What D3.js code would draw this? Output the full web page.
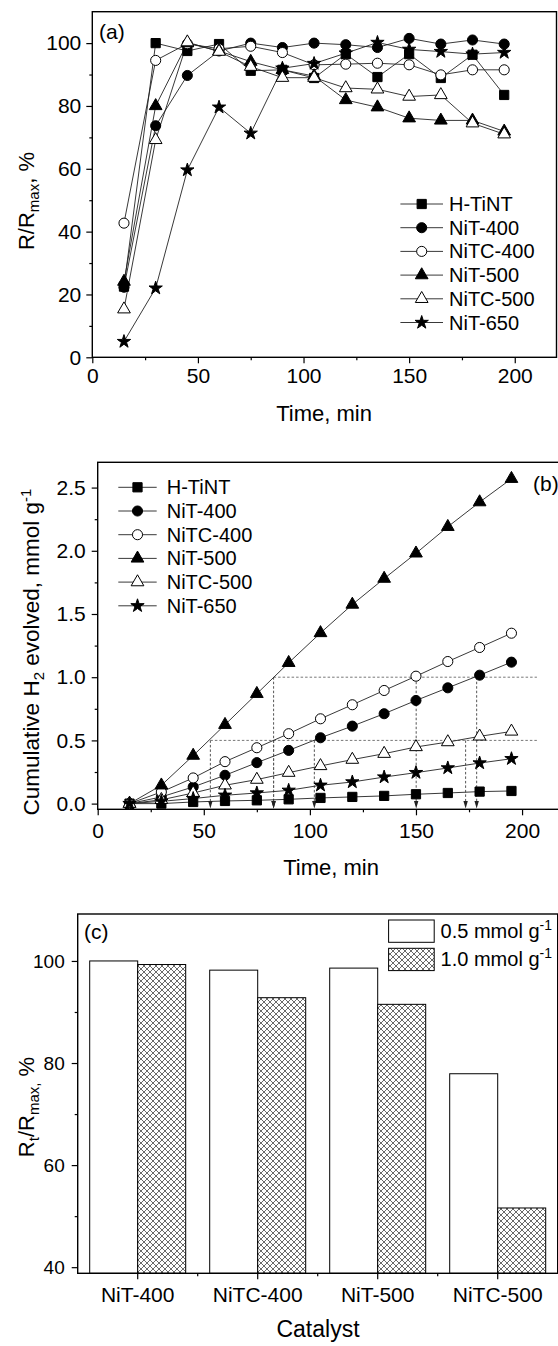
<!DOCTYPE html>
<html>
<head>
<meta charset="utf-8">
<script src="https://cdn.jsdelivr.net/npm/d3@7"></script>
<style>
  body { margin: 0; background: #fff; }
  text { font-family: "Liberation Sans", Arial, sans-serif; fill: #000; }
</style>
</head>
<body>
<div id="chart"></div>
<script>
// ---- data ----
const seriesNames = ["H-TiNT", "NiT-400", "NiTC-400", "NiT-500", "NiTC-500", "NiT-650"];
const times = [15, 30, 45, 60, 75, 90, 105, 120, 135, 150, 165, 180, 195];

// (a) relative rate R/Rmax, %
const rateHTiNT = [22.5, 100, 97.5, 99.7, 91.2, 91.5, 88.9, 96.5, 89.2, 96.5, 88.9, 96.3, 83.5];
const rateNiT400 = [22.3, 73.7, 89.7, 97.5, 100, 98.6, 100, 99.5, 98.6, 101.5, 99.7, 101, 99.7];
const rateNiTC400 = [42.7, 94.5, 99.8, 98.2, 99, 97, 93.1, 93.3, 93.6, 93.1, 89.9, 91.5, 91.5];
const rateNiT500 = [24.1, 80, 100, 97.5, 94.1, 91.5, 89.5, 81.9, 79.6, 76.1, 75.4, 75.4, 71.9];
const rateNiTC500 = [15.3, 69.2, 100.3, 97.3, 92.5, 89, 89, 85.7, 85.3, 83, 83.5, 74.5, 71];
const rateNiT650 = [5, 22, 59.6, 79.6, 71.3, 92, 93.5, 96.8, 100.2, 98, 97.3, 96.5, 97];

// (b) cumulative H2, mmol g-1
const h2HTiNT = [0, 0, 0.013, 0.021, 0.026, 0.034, 0.045, 0.053, 0.061, 0.074, 0.084, 0.095, 0.1];
const h2NiT400 = [0, 0.053, 0.132, 0.224, 0.324, 0.421, 0.521, 0.613, 0.711, 0.816, 0.916, 1.016, 1.119];
const h2NiTC400 = [0, 0.092, 0.203, 0.332, 0.442, 0.553, 0.671, 0.782, 0.895, 1.008, 1.124, 1.235, 1.348];
const h2NiT500 = [0, 0.145, 0.38, 0.624, 0.869, 1.114, 1.35, 1.575, 1.78, 1.98, 2.19, 2.385, 2.57];
const h2NiTC500 = [0, 0.03, 0.084, 0.145, 0.19, 0.245, 0.298, 0.348, 0.395, 0.448, 0.487, 0.532, 0.571];
const h2NiT650 = [0, 0.018, 0.04, 0.066, 0.084, 0.105, 0.145, 0.171, 0.21, 0.245, 0.282, 0.321, 0.355];

// (b) reference levels and times at which they are reached
const refLevels = [0.5, 1.0];
const refEnd = 207;
const halfTimes = [53.1, 82.9, 102.1, 173.4];
const fullTimes = [82.9, 150.1, 178.6];

// (c) Rt/Rmax at two H2 amounts
const catalysts = ["NiT-400", "NiTC-400", "NiT-500", "NiTC-500"];
const barSeries = ["0.5 mmol g", "1.0 mmol g"];
const ratioHalf = [100, 98.2, 98.6, 77.9];
const ratioOne = [99.3, 92.8, 91.5, 51.6];

const rateData = [rateHTiNT, rateNiT400, rateNiTC400, rateNiT500, rateNiTC500, rateNiT650];
const h2Data = [h2HTiNT, h2NiT400, h2NiTC400, h2NiT500, h2NiTC500, h2NiT650];

// ---- styles ----
const symTypes = [d3.symbolSquare, d3.symbolCircle, d3.symbolCircle, d3.symbolTriangle, d3.symbolTriangle, d3.symbolStar];
const symSizes = [85, 80, 80, 70, 70, 55];
const symFilled = [true, true, false, true, false, true];

const svg = d3.select("#chart").append("svg")
  .attr("width", 558).attr("height", 1346);
svg.append("rect").attr("width", 558).attr("height", 1346).attr("fill", "#fff");

const defs = svg.append("defs");
const pat = defs.append("pattern").attr("id", "hatch")
  .attr("patternUnits", "userSpaceOnUse").attr("width", 6).attr("height", 6);
pat.append("rect").attr("width", 6).attr("height", 6).attr("fill", "#fff");
pat.append("path").attr("d", "M0,0L6,6M6,0L0,6M-1,5L1,7M5,-1L7,1M-1,1L1,-1M5,7L7,5")
  .attr("stroke", "#444").attr("stroke-width", 0.8);

function symbolPath(i) {
  return d3.symbol().type(symTypes[i]).size(symSizes[i])();
}

function drawAxes(g, x, y, o) {
  const xa = g.append("g").attr("transform", "translate(0," + o.bottom + ")");
  xa.call(d3.axisBottom(x).tickValues(o.xMajor).tickSize(6).tickPadding(o.xPad).tickFormat(o.xFmt || d3.format("d")));
  xa.select(".domain").remove();
  xa.selectAll("text").style("font-size", o.xFont + "px");
  const xm = g.append("g").attr("transform", "translate(0," + o.bottom + ")");
  xm.call(d3.axisBottom(x).tickValues(o.xMinor).tickSize(3).tickFormat(""));
  xm.select(".domain").remove();

  const ya = g.append("g").attr("transform", "translate(" + o.left + ",0)");
  ya.call(d3.axisLeft(y).tickValues(o.yMajor).tickSize(6).tickPadding(o.yPad).tickFormat(o.yFmt || d3.format("d")));
  ya.select(".domain").remove();
  ya.selectAll("text").style("font-size", o.yFont + "px");
  const ym = g.append("g").attr("transform", "translate(" + o.left + ",0)");
  ym.call(d3.axisLeft(y).tickValues(o.yMinor).tickSize(3).tickFormat(""));
  ym.select(".domain").remove();
  g.selectAll(".tick line").attr("stroke", "#000").attr("stroke-width", 1.2);
}

function drawFrame(g, x0, x1, y0, y1) {
  g.append("rect").attr("x", x0).attr("y", y0).attr("width", x1 - x0).attr("height", y1 - y0)
    .attr("fill", "none").attr("stroke", "#000").attr("stroke-width", 1.4);
}

function drawSeries(g, x, y, data) {
  const line = d3.line().x((d, i) => x(times[i])).y(d => y(d));
  data.forEach((vals, s) => {
    g.append("path").attr("d", line(vals)).attr("fill", "none")
      .attr("stroke", "#222").attr("stroke-width", 0.9);
  });
  data.forEach((vals, s) => {
    g.selectAll(null).data(vals).enter().append("path")
      .attr("d", symbolPath(s))
      .attr("transform", (d, i) => "translate(" + x(times[i]) + "," + y(d) + ")")
      .attr("fill", symFilled[s] ? "#000" : "#fff")
      .attr("stroke", "#000").attr("stroke-width", 1);
  });
}

function drawLegend(g, lx0, lx1, ly, step, tx) {
  seriesNames.forEach((name, s) => {
    const yy = ly + s * step;
    g.append("line").attr("x1", lx0).attr("x2", lx1).attr("y1", yy).attr("y2", yy)
      .attr("stroke", "#222").attr("stroke-width", 0.9);
    g.append("path").attr("d", symbolPath(s))
      .attr("transform", "translate(" + ((lx0 + lx1) / 2) + "," + yy + ")")
      .attr("fill", symFilled[s] ? "#000" : "#fff").attr("stroke", "#000");
    g.append("text").attr("x", tx).attr("y", yy + 7).style("font-size", "20px").text(name);
  });
}

// ---- panel (a) ----
{
  const g = svg.append("g");
  const x = d3.scaleLinear().domain([0, 220]).range([92.3, 557]);
  const y = d3.scaleLinear().domain([0, 110]).range([357.3, 11.7]);
  drawSeries(g, x, y, rateData);
  drawAxes(g, x, y, {
    bottom: 357.3, left: 92.3,
    xMajor: [0, 50, 100, 150, 200], xMinor: [25, 75, 125, 175], xPad: 5, xFont: 21,
    yMajor: [0, 20, 40, 60, 80, 100], yMinor: [10, 30, 50, 70, 90], yPad: 5, yFont: 21
  });
  drawFrame(g, 92.3, 556.5, 11.7, 357.3);
  drawLegend(g, 400.4, 443, 204, 23.7, 449);
  g.append("text").attr("x", 99).attr("y", 39).style("font-size", "21px").text("(a)");
  g.append("text").attr("x", 324).attr("y", 421).attr("text-anchor", "middle")
    .style("font-size", "22px").text("Time, min");
  const yt = g.append("text").attr("transform", "translate(34,201) rotate(-90)")
    .attr("text-anchor", "middle").style("font-size", "22px");
  yt.append("tspan").text("R/R");
  yt.append("tspan").attr("dy", 5).style("font-size", "15px").text("max");
  yt.append("tspan").attr("dy", -5).text(", %");
}

// ---- panel (b) ----
{
  const g = svg.append("g");
  const x = d3.scaleLinear().domain([0, 220]).range([97.7, 564.5]);
  const y = d3.scaleLinear().domain([-0.045, 2.7]).range([809.3, 462.3]);

  // dotted guides
  const dash = "2.5,2";
  refLevels.forEach(v => {
    const tStart = v === 0.5 ? halfTimes[0] : fullTimes[0];
    g.append("line").attr("x1", x(tStart)).attr("x2", x(refEnd)).attr("y1", y(v)).attr("y2", y(v))
      .attr("stroke", "#777").attr("stroke-width", 1).attr("stroke-dasharray", dash);
  });
  const drops = halfTimes.map(t => [t, 0.5]).concat(fullTimes.map(t => [t, 1.0]));
  drops.forEach(([t, v]) => {
    g.append("line").attr("x1", x(t)).attr("x2", x(t)).attr("y1", y(v)).attr("y2", 803)
      .attr("stroke", "#555").attr("stroke-width", 1).attr("stroke-dasharray", dash);
    g.append("path")
      .attr("d", "M" + (x(t) - 2.2) + ",801L" + (x(t) + 2.2) + ",801L" + x(t) + ",808.5Z")
      .attr("fill", "#222");
  });

  drawSeries(g, x, y, h2Data);
  drawAxes(g, x, y, {
    bottom: 809.3, left: 97.7,
    xMajor: [0, 50, 100, 150, 200], xMinor: [25, 75, 125, 175], xPad: 8, xFont: 21,
    yMajor: [0, 0.5, 1, 1.5, 2, 2.5], yMinor: [0.25, 0.75, 1.25, 1.75, 2.25], yPad: 6, yFont: 21,
    yFmt: d3.format(".1f")
  });
  drawFrame(g, 97.7, 564.5, 462.3, 809.3);
  drawLegend(g, 118.3, 156.7, 487.3, 23.7, 166.7);
  g.append("text").attr("x", 533).attr("y", 491).style("font-size", "21px").text("(b)");
  g.append("text").attr("x", 331).attr("y", 875).attr("text-anchor", "middle")
    .style("font-size", "22px").text("Time, min");
  const yt = g.append("text").attr("transform", "translate(39,652) rotate(-90)")
    .attr("text-anchor", "middle").style("font-size", "22.5px");
  yt.append("tspan").text("Cumulative H");
  yt.append("tspan").attr("dy", 5).style("font-size", "15px").text("2");
  yt.append("tspan").attr("dy", -5).text(" evolved, mmol g");
  yt.append("tspan").attr("dy", -8).style("font-size", "15px").text("-1");
}

// ---- panel (c) ----
{
  const g = svg.append("g");
  const x = d3.scaleBand().domain(catalysts).range([77.7, 557.7]).paddingInner(0.2).paddingOuter(0.1);
  const xs = d3.scaleBand().domain(barSeries).range([0, x.bandwidth()]);
  const y = d3.scaleLinear().domain([38.8, 109.2]).range([1273.3, 914]);
  const fills = ["#fff", "url(#hatch)"];

  [ratioHalf, ratioOne].forEach((vals, s) => {
    g.selectAll(null).data(vals).enter().append("rect")
      .attr("x", (d, i) => x(catalysts[i]) + xs(barSeries[s]))
      .attr("y", d => y(d))
      .attr("width", xs.bandwidth())
      .attr("height", d => y(38.8) - y(d))
      .attr("fill", fills[s]).attr("stroke", "#000").attr("stroke-width", 1);
  });

  // x axis: major at category centres, minor at boundaries
  const xa = g.append("g").attr("transform", "translate(0,1273.3)");
  xa.call(d3.axisBottom(x).tickSize(6).tickPadding(7.5));
  xa.select(".domain").remove();
  xa.selectAll("text").style("font-size", "21px");
  g.selectAll(null).data(catalysts.slice(1)).enter().append("line")
    .attr("x1", c => x(c) - (x.step() - x.bandwidth()) / 2)
    .attr("x2", c => x(c) - (x.step() - x.bandwidth()) / 2)
    .attr("y1", 1273.3).attr("y2", 1276.3).attr("stroke", "#000").attr("stroke-width", 1.2);

  const ya = g.append("g").attr("transform", "translate(77.7,0)");
  ya.call(d3.axisLeft(y).tickValues([40, 60, 80, 100]).tickSize(6).tickPadding(7));
  ya.select(".domain").remove();
  ya.selectAll("text").style("font-size", "19px");
  const ym = g.append("g").attr("transform", "translate(77.7,0)");
  ym.call(d3.axisLeft(y).tickValues([50, 70, 90]).tickSize(3).tickFormat(""));
  ym.select(".domain").remove();
  g.selectAll(".tick line").attr("stroke", "#000").attr("stroke-width", 1.2);

  drawFrame(g, 77.7, 557.7, 914, 1273.3);

  // legend
  barSeries.forEach((name, s) => {
    const yy = 920 + s * 28.3;
    g.append("rect").attr("x", 388.6).attr("y", yy).attr("width", 45.6).attr("height", 22.3)
      .attr("fill", fills[s]).attr("stroke", "#000").attr("stroke-width", 1);
    const t = g.append("text").attr("x", 440.6).attr("y", yy + 18).style("font-size", "20px");
    t.append("tspan").text(name);
    t.append("tspan").attr("dy", -8).style("font-size", "14px").text("-1");
  });

  g.append("text").attr("x", 84).attr("y", 939).style("font-size", "21px").text("(c)");
  g.append("text").attr("x", 318).attr("y", 1337).attr("text-anchor", "middle")
    .style("font-size", "23px").text("Catalyst");
  const yt = g.append("text").attr("transform", "translate(34,1107) rotate(-90)")
    .attr("text-anchor", "middle").style("font-size", "22px");
  yt.append("tspan").text("R");
  yt.append("tspan").attr("dy", 5).style("font-size", "15px").text("t");
  yt.append("tspan").attr("dy", -5).text("/R");
  yt.append("tspan").attr("dy", 5).style("font-size", "15px").text("max,");
  yt.append("tspan").attr("dy", -5).text(" %");
}
</script>
</body>
</html>
